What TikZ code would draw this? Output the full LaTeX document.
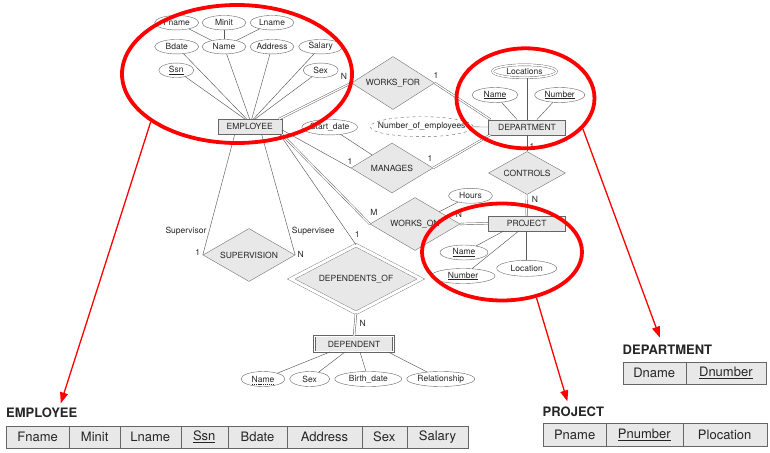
\documentclass[tikz,border=0pt]{standalone}
\usepackage{fontspec}
\setmainfont{TeX Gyre Heros}
\usetikzlibrary{shapes.geometric, arrows.meta}
\tikzset{
	er/.cd,
	entity/.style = {
		rectangle,
		draw = black!60,
		fill = black!9,
		text = black!85,
		inner sep = 0pt,
		minimum height = 15pt,
		font = \fontsize{8.5}{10}\selectfont
	},
	relation/.style = {
		diamond,
		aspect = 1.6,
		draw = black!55,
		fill = black!9,
		text = black!85,
		inner sep = 0pt,
		font = \fontsize{8.5}{10}\selectfont
	},
	attr/.style = {
		ellipse,
		draw = black!60,
		fill = white,
		text = black!85,
		inner sep = 0pt,
		minimum height = 14.5pt,
		font = \fontsize{8.5}{10}\selectfont
	},
	link/.style = {
		draw = black!65,
		line width = 0.45pt
	},
	total/.style = {
		draw = black!65,
		line width = 0.45pt,
		double = white,
		double distance = 1.3pt
	},
	cell/.style = {
		rectangle,
		draw = black!60,
		fill = black!9,
		text = black!85,
		inner sep = 0pt,
		outer sep = 0pt,
		font = \fontsize{13}{15}\selectfont
	},
	heading/.style = {
		inner sep = 0pt,
		anchor = west,
		text = black!85,
		font = \fontsize{13}{15}\selectfont\bfseries
	},
}

\begin{document}
\begin{tikzpicture}[
		x = 1pt, y = -1pt,
		card/.style = {
			inner sep = 0pt,
			text = black!85,
			font = \fontsize{8.5}{10}\selectfont
		},
		ring/.style = {
			ellipse,
			draw = red,
			line width = 3.8pt,
			inner sep = 0pt
		},
		pointer/.style = {
			draw = red,
			line width = 1.3pt,
			-{Triangle[length = 11pt, width = 8pt]}
		}]
		\useasboundingbox (0, 0) rectangle (770, 452);
		% entities and relationships
		\node[er/entity, minimum width = 64pt] (employee) at (249.7, 126.8) {EMPLOYEE};
		\node[er/entity, minimum width = 77pt] (department) at (527, 127.2) {DEPARTMENT};
		\node[er/entity, minimum width = 77pt] (project) at (526.7, 223.3) {PROJECT};
		\node[er/entity, double = white, double distance = 1.4pt, minimum width = 79pt, minimum height = 15.5pt] (dependent) at (354, 344) {DEPENDENT};
		\node[er/relation, minimum width = 83pt, minimum height = 53pt] (worksfor) at (393, 83) {WORKS\_FOR};
		\node[er/relation, minimum width = 82pt, minimum height = 50pt] (manages) at (392, 168) {MANAGES};
		\node[er/relation, minimum width = 77pt, minimum height = 43pt] (controls) at (527, 173) {CONTROLS};
		\node[er/relation, minimum width = 90pt, minimum height = 53pt] (workson) at (415, 224) {WORKS\_ON};
		\node[er/relation, minimum width = 92pt, minimum height = 53pt] (supervision) at (249, 255) {SUPERVISION};
		\node[er/relation, double = white, double distance = 3pt, minimum width = 130pt, minimum height = 68pt] (dependentsof) at (356, 279) {DEPENDENTS\_OF};
		% attributes
		\node[er/attr, minimum width = 44pt] (fname) at (176.7, 22.7) {Fname};
		\node[er/attr, minimum width = 44pt] (minit) at (224, 22.7) {Minit};
		\node[er/attr, minimum width = 44pt] (lname) at (272, 22.7) {Lname};
		\node[er/attr, minimum width = 44pt] (bdate) at (176.7, 46.7) {Bdate};
		\node[er/attr, minimum width = 44pt] (ename) at (224, 46.7) {Name};
		\node[er/attr, minimum width = 44pt] (address) at (272, 46.7) {Address};
		\node[er/attr, minimum width = 44pt] (salary) at (320.7, 46.7) {Salary};
		\node[er/attr, minimum width = 35pt] (ssn) at (176.3, 70.3) {\underline{Ssn}};
		\node[er/attr, minimum width = 35pt] (sex) at (320.7, 70.3) {Sex};
		\node[er/attr, minimum width = 47pt, minimum height = 15.5pt] (startdate) at (329.7, 127.2) {Start\_date};
		\node[er/attr, dashed, minimum width = 103pt, minimum height = 20pt] (numemp) at (421.7, 126.7) {\makebox[0pt]{Number\_of\_employees}};
		\node[er/attr, double = white, double distance = 1.6pt, minimum width = 64pt, minimum height = 13pt] (locations) at (524.5, 71.3) {Locations};
		\node[er/attr, minimum width = 46pt, minimum height = 15pt] (dname) at (495, 95) {\underline{Name}};
		\node[er/attr, minimum width = 50pt, minimum height = 15pt] (dnumber) at (559.7, 95) {\underline{Number}};
		\node[er/attr, minimum width = 44pt, minimum height = 15pt] (hours) at (470.5, 195.8) {Hours};
		\node[er/attr, minimum width = 48pt, minimum height = 15pt] (pname) at (464, 252.5) {\underline{Name}};
		\node[er/attr, minimum width = 64pt, minimum height = 15pt] (pnumber) at (463, 276) {\underline{Number}};
		\node[er/attr, minimum width = 60pt, minimum height = 16pt] (plocation) at (526.7, 268.3) {Location};
		\node[er/attr, minimum width = 44pt, minimum height = 15pt] (depname) at (263, 379) {Name};
		\node[er/attr, minimum width = 40pt, minimum height = 15pt] (depsex) at (309.7, 379) {Sex};
		\node[er/attr, minimum width = 67pt, minimum height = 15pt] (birthdate) at (368.3, 379) {Birth\_date};
		\node[er/attr, minimum width = 68pt, minimum height = 15pt] (relationship) at (440.8, 379) {Relationship};
		% partial key
		\draw[black!85, line width = 0.4pt, dash pattern = on 1.2pt off 0.9pt] ([xshift = -11pt, yshift = -5pt]depname.center) -- ([xshift = 11pt, yshift = -5pt]depname.center);
		% links
		\foreach \a/\s in {ssn/-4.7, bdate/-3, ename/0, address/2, salary/3.7, sex/5.3}
			\draw[er/link] ([xshift = \s pt]employee.north) -- (\a);
		\foreach \a in {fname, minit, lname}
			\draw[er/link] (\a) -- (ename);
		\draw[er/total] ([xshift = -3pt]employee.north east) -- (worksfor.west);
		\draw[er/total] (worksfor.east) -- ([xshift = 2pt]department.north west);
		\draw[er/link] ([yshift = -3pt]employee.east) -- (manages.west);
		\draw[er/total] (manages.east) -- ([xshift = 2pt]department.south west);
		\draw[er/link] (startdate) -- (manages);
		\draw[er/link] (numemp) -- (department);
		\draw[er/link] (department.north) -- (department.north |- locations.south);
		\draw[er/link] ([xshift = -10pt]department.north) -- (dname);
		\draw[er/link] ([xshift = 10pt]department.north) -- (dnumber);
		\draw[er/link] (department) -- (controls);
		\draw[er/total] (controls) -- (project);
		\draw[er/total] (employee.south east) -- (workson.west);
		\draw[er/total] (workson.east) -- (project.west);
		\draw[er/link] (hours) -- (workson);
		\draw[er/link] ([xshift = -23pt]project.south) -- (pname);
		\draw[er/link] ([xshift = -8pt]project.south) -- (pnumber);
		\draw[er/link] (project) -- (plocation);
		\draw[er/link] ([xshift = -15pt]employee.south) -- (supervision.west);
		\draw[er/link] ([xshift = 12pt]employee.south) -- (supervision.east);
		\draw[er/link] ([xshift = -2pt]employee.south east) -- (dependentsof.north);
		\draw[er/total] (dependentsof.south) -- (dependent.north);
		\foreach \a/\s in {depname/-24, depsex/-9, birthdate/6, relationship/34}
			\draw[er/link] ([xshift = \s pt]dependent.south) -- (\a);
		% cardinalities and roles
		\node[card] (wf-n) at (344, 76.5) {N};
		\node[card] (wf-1) at (436, 75) {1};
		\node[card] (mg-e) at (350, 161.5) {1};
		\node[card] (mg-d) at (430, 158.3) {1};
		\node[card] (ct-d) at (532, 146.5) {1};
		\node[card] (ct-p) at (535, 199) {N};
		\node[card] (wo-e) at (374, 212.7) {M};
		\node[card] (wo-p) at (459, 214.3) {N};
		\node[card] (sv-1) at (197.7, 252.7) {1};
		\node[card] (sv-n) at (300.7, 254) {N};
		\node[card] (sv-r) at (186, 231) {Supervisor};
		\node[card] (sv-e) at (313.3, 231) {Supervisee};
		\node[card] (do-e) at (357.3, 234.3) {1};
		\node[card] (do-d) at (362.7, 323.3) {N};
		% relations
		\node[er/heading] (emphead) at (6, 412.5) {EMPLOYEE};
		\foreach \x/\w/\n/\t in {6/63.3/fname/Fname, 69.3/50.7/minit/Minit, 120/60.7/lname/Lname, 180.7/47/ssn/\underline{Ssn}, 227.7/59.6/bdate/Bdate, 287.3/74.4/address/Address, 361.7/45/sex/Sex, 406.7/61.6/salary/Salary}
			\node[er/cell, anchor = west, minimum width = \w pt, minimum height = 22pt] (emp-\n) at (\x, 436.7) {\t};
		\node[er/heading] (depthead) at (622.5, 349.5) {DEPARTMENT};
		\foreach \x/\w/\n/\t in {622.7/63/dname/Dname, 685.7/80.3/dnumber/\underline{Dnumber}}
			\node[er/cell, anchor = west, minimum width = \w pt, minimum height = 21.3pt] (dept-\n) at (\x, 373.3) {\t};
		\node[er/heading] (projhead) at (542.5, 411.5) {PROJECT};
		\foreach \x/\w/\n/\t in {543.3/62.7/pname/Pname, 606/76.7/pnumber/\underline{Pnumber}, 682.7/84/plocation/Plocation}
			\node[er/cell, anchor = west, minimum width = \w pt, minimum height = 22.7pt] (proj-\n) at (\x, 434.7) {\t};
		% highlights
		\node[ring, minimum width = 230pt, minimum height = 138pt] (ring-emp) at (237, 74) {};
		\node[ring, minimum width = 138pt, minimum height = 100pt] (ring-dept) at (525.5, 98.3) {};
		\node[ring, minimum width = 160pt, minimum height = 97pt] (ring-proj) at (502, 252) {};
		\draw[pointer] (ring-emp.209) -- ([xshift = 19pt, yshift = 4pt]emphead.north);
		\draw[pointer] (ring-dept.332) -- ([xshift = -7.6pt, yshift = 7pt]depthead.north);
		\draw[pointer] (ring-proj.307) -- ([xshift = -6pt, yshift = 5pt]projhead.north);
	\end{tikzpicture}
\end{document}
